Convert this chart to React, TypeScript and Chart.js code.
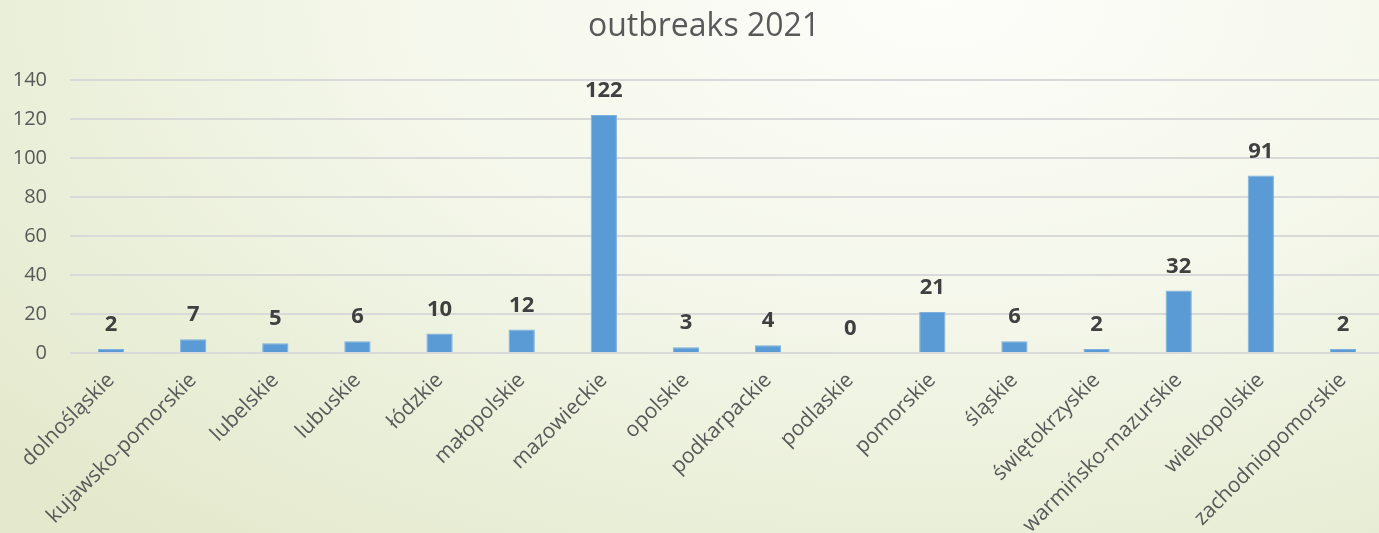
import React, { useEffect, useRef } from "react";
import { Chart, registerables } from "chart.js";

Chart.register(...registerables);

const categories = [
  "dolnośląskie",
  "kujawsko-pomorskie",
  "lubelskie",
  "lubuskie",
  "łódzkie",
  "małopolskie",
  "mazowieckie",
  "opolskie",
  "podkarpackie",
  "podlaskie",
  "pomorskie",
  "śląskie",
  "świętokrzyskie",
  "warmińsko-mazurskie",
  "wielkopolskie",
  "zachodniopomorskie",
];
const outbreaks = [2, 7, 5, 6, 10, 12, 122, 3, 4, 0, 21, 6, 2, 32, 91, 2];
const titleText = "outbreaks 2021";
const yMin = 0;
const yMax = 140;
const yStep = 20;

const FONT = "'Open Sans', sans-serif";

const labelsPlugin = {
  id: "valueLabels",
  afterDatasetsDraw(chart: any) {
    const ctx = chart.ctx;
    const meta = chart.getDatasetMeta(0);
    ctx.save();
    ctx.font = `bold 22px ${FONT}`;
    ctx.fillStyle = "#404040";
    ctx.textAlign = "center";
    ctx.textBaseline = "alphabetic";
    meta.data.forEach((bar: any, i: number) => {
      ctx.fillText(String(outbreaks[i]), bar.x, bar.y - 18);
    });
    ctx.restore();
  },
};

const titlePlugin = {
  id: "customTitle",
  afterDraw(chart: any) {
    const ctx = chart.ctx;
    ctx.save();
    ctx.font = `32px ${FONT}`;
    ctx.fillStyle = "#595959";
    ctx.textAlign = "center";
    ctx.textBaseline = "middle";
    ctx.fillText(titleText, 704, 27);
    ctx.restore();
  },
};

export default function App() {
  const ref = useRef<HTMLCanvasElement | null>(null);
  useEffect(() => {
    if (!ref.current) return;
    const chart = new Chart(ref.current, {
      type: "bar",
      data: {
        labels: categories,
        datasets: [
          {
            data: outbreaks,
            backgroundColor: "#5b9bd5",
            borderColor: "#7eb0de",
            borderWidth: 1,
            barPercentage: 0.64,
            categoryPercentage: 0.5,
          },
        ],
      },
      options: {
        responsive: false,
        animation: false,
        devicePixelRatio: 1,
        layout: { padding: { top: 80, right: 0, bottom: 0, left: 0 } },
        plugins: {
          legend: { display: false },
          title: { display: false },
          tooltip: { enabled: false },
        },
        scales: {
          x: {
            grid: { display: false, drawTicks: false },
            border: { display: false },
            ticks: {
              color: "#595959",
              font: { family: FONT, size: 21 },
              minRotation: 45,
              maxRotation: 45,
              autoSkip: false,
              padding: 15,
            },
            afterFit: (scale: any) => {
              scale.height = 180;
            },
          },
          y: {
            min: yMin,
            max: yMax,
            grid: { color: "#d9d9d9", lineWidth: 2, drawTicks: false },
            border: { display: false },
            ticks: {
              stepSize: yStep,
              color: "#595959",
              font: { family: FONT, size: 20 },
              padding: 23,
            },
            afterFit: (scale: any) => {
              scale.width = 70;
            },
          },
        },
      },
      plugins: [labelsPlugin, titlePlugin],
    });
    return () => chart.destroy();
  }, []);

  return (
    <div
      style={{
        position: "fixed",
        left: 0,
        top: 0,
        width: 1379,
        height: 533,
        overflow: "hidden",
        background:
          "radial-gradient(ellipse 90% 130% at 68% 0%, #fdfdfa 0%, #f4f7ea 45%, #eaefd9 75%, #e4e9cd 100%)",
      }}
    >
      <canvas
        ref={ref}
        width={1384}
        height={533}
        style={{ display: "block", width: 1384, height: 533 }}
      />
    </div>
  );
}
